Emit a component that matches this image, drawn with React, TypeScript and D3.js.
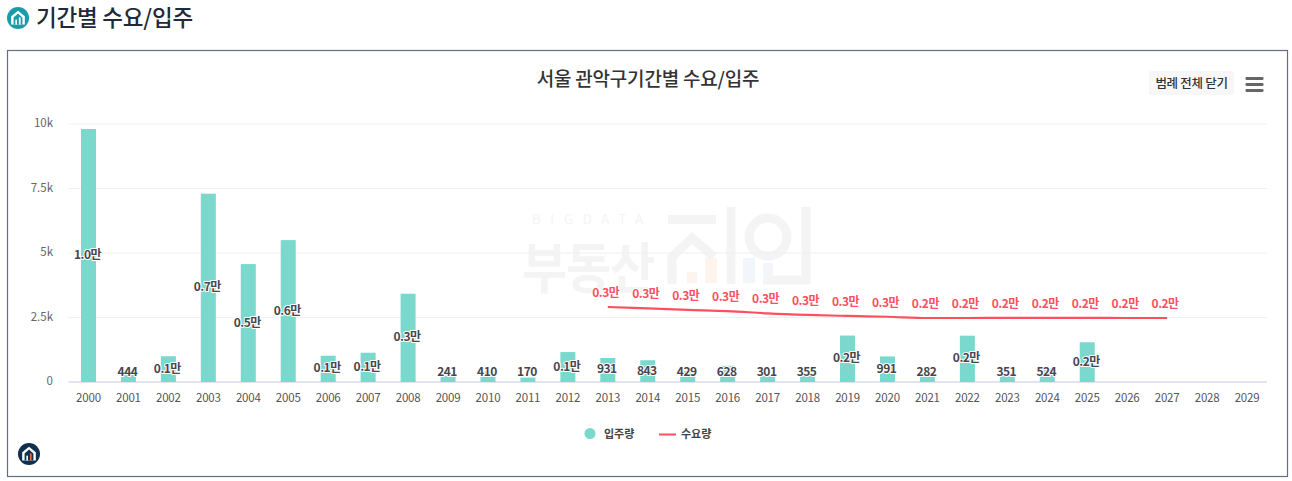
import React from "react";
import * as d3 from "d3";

const years = d3.range(2000, 2030).map(String);
const supply: (number | null)[] = [9806, 444, 1000, 7300, 4570, 5500, 1020, 1135, 3420, 241, 410, 170, 1160, 931, 843, 429, 628, 301, 355, 1800, 991, 282, 1795, 351, 524, 1540, null, null, null, null];
const demandYears = ["2013","2014","2015","2016","2017","2018","2019","2020","2021","2022","2023","2024","2025","2026","2027"];
const demand = [2907, 2850, 2795, 2750, 2660, 2600, 2560, 2530, 2480, 2480, 2485, 2485, 2485, 2480, 2480];
const demandLabels = ["0.3만","0.3만","0.3만","0.3만","0.3만","0.3만","0.3만","0.3만","0.2만","0.2만","0.2만","0.2만","0.2만","0.2만","0.2만"];
const yTicks = [0, 2500, 5000, 7500, 10000];
const yTickLabels = ["0", "2.5k", "5k", "7.5k", "10k"];
const supplyName = "입주량";
const demandName = "수요량";
const heading = "기간별 수요/입주";
const chartTitle = "서울 관악구기간별 수요/입주";

const FONT = "'Noto Sans CJK KR','Noto Sans',sans-serif";
const TEAL = "#7ad8cd";
const RED = "#ff4f5e";
const WM = "#f4f4f5";

const supplyLabel = (v: number) => (v >= 1000 ? `${(v / 10000).toFixed(1)}만` : String(v));

function HomeIcon({ x, y, r, fill, accent }: { x: number; y: number; r: number; fill: string; accent: boolean }) {
  const s = r / 10;
  return (
    <g transform={`translate(${x},${y}) scale(${s})`}>
      <circle r={10} fill={fill} />
      <path d="M-6.2,6 V-1.5 L0,-6.5 L6.2,-1.5 V6 Z" fill="#fff" />
      <path d="M-4,6 V-0.5 L0,-4 L4,-0.5 V6 Z" fill={fill} />
      <rect x={-2.4} y={1.5} width={1.5} height={4.5} fill="#fff" />
      <rect x={0.8} y={-0.5} width={1.6} height={6.5} fill={accent ? "#f0642d" : "#fff"} />
    </g>
  );
}

export default function App() {
  const x = d3.scaleBand<string>().domain(years).range([68.5, 1267]);
  const y = d3.scaleLinear().domain([0, 10000]).range([382, 124]);
  const cx = (c: string) => x(c)! + x.bandwidth() / 2;
  const barW = 15;
  const line = d3
    .line<number>()
    .x((_, i) => cx(demandYears[i]))
    .y((d) => y(d))
    .curve(d3.curveMonotoneX);

  return (
    <svg
      width={1292}
      height={481}
      style={{ position: "fixed", left: 0, top: 0, background: "#fff", fontFamily: FONT }}
    >
      <HomeIcon x={18} y={18} r={11} fill="#1b9aaa" accent={false} />
      <text x={36} y={25.5} fontSize={22.5} fontWeight={500} fill="#1f2a3a" letterSpacing={-0.2}>{heading}</text>
      <rect x={7.5} y={50.5} width={1280} height={426} fill="#fff" stroke="#666c80" strokeWidth={1.2} />

      {/* watermark */}
      <g>
        <text x={532} y={224} fontSize={13} fill={WM} letterSpacing={9.8}>BIGDATA</text>
        <text transform="translate(522,288) scale(1,1.12)" fontSize={49} fontWeight={700} fill={WM} letterSpacing={-1}>부동산</text>
        <g fill="none" stroke={WM} strokeWidth={9}>
          <path d="M668,219.5 H716" />
          <path d="M672,284 V257 L692,238 L714,257" />
          <path d="M731,207 V284" />
          <circle cx={768} cy={237} r={19} />
          <path d="M806,207 V280 H763" />
        </g>
        <g fill="#fdf4ee">
          <rect x={687} y={272} width={10} height={11} />
          <rect x={705} y={258} width={12} height={25} />
        </g>
        <g fill="#f2f6fb">
          <rect x={743} y={258} width={12} height={25} />
          <rect x={763} y={263} width={10} height={14} />
        </g>
      </g>

      {yTicks.map((t, i) => (
        <g key={t}>
          <line x1={68.5} x2={1267} y1={y(t)} y2={y(t)} stroke={t === 0 ? "#d9dded" : "#eff0f2"} strokeWidth={t === 0 ? 1.5 : 1} />
          <text x={53} y={y(t) + 3} textAnchor="end" fontSize={11.5} fill="#666">{yTickLabels[i]}</text>
        </g>
      ))}

      {years.map((c, i) => {
        const v = supply[i];
        return v == null ? null : (
          <rect key={c} x={cx(c) - barW / 2} y={y(v)} width={barW} height={y(0) - y(v)} fill={TEAL} />
        );
      })}
      {years.map((c) => (
        <text key={c} x={cx(c)} y={401.5} textAnchor="middle" fontSize={11.5} fill="#555" letterSpacing={-0.2}>{c}</text>
      ))}

      <path d={line(demand) ?? ""} fill="none" stroke={RED} strokeWidth={2.2} />

      {years.map((c, i) => {
        const v = supply[i];
        if (v == null) return null;
        const mid = Math.min(y(v / 2), y(0) - 10);
        return (
          <text key={c} x={cx(c) - 1} y={mid + 3.5} textAnchor="middle" fontSize={12} fontWeight={700} fill="#46464e" letterSpacing={-0.5}
            stroke="#fff" strokeWidth={2} strokeLinejoin="round" paintOrder="stroke">{supplyLabel(v)}</text>
        );
      })}
      {demandYears.map((c, i) => (
        <text key={c} x={cx(c) - 2} y={y(demand[i]) - 10} textAnchor="middle" fontSize={12} fontWeight={700} fill={RED} letterSpacing={-0.5}
          stroke="#fff" strokeWidth={2} strokeLinejoin="round" paintOrder="stroke">{demandLabels[i]}</text>
      ))}

      <text x={648} y={86} textAnchor="middle" fontSize={19} fontWeight={500} fill="#333" letterSpacing={-0.2}>{chartTitle}</text>

      <rect x={1149} y={71} width={85} height={24} rx={2} fill="#f7f7f7" />
      <text x={1191.5} y={88} textAnchor="middle" fontSize={12.5} fontWeight={500} fill="#333" letterSpacing={-0.3}>범례 전체 닫기</text>
      {[78, 84, 90].map((t) => (
        <rect key={t} x={1245.5} y={t - 1} width={18} height={3} rx={1} fill="#666" />
      ))}

      <circle cx={590} cy={433.5} r={5.5} fill={TEAL} />
      <text x={604} y={437.5} fontSize={11} fontWeight={700} fill="#444">{supplyName}</text>
      <line x1={659} x2={676} y1={434.5} y2={434.5} stroke={RED} strokeWidth={2} />
      <text x={681} y={437.5} fontSize={11} fontWeight={700} fill="#444">{demandName}</text>

      <HomeIcon x={29} y={454} r={11} fill="#10304f" accent={true} />
    </svg>
  );
}
